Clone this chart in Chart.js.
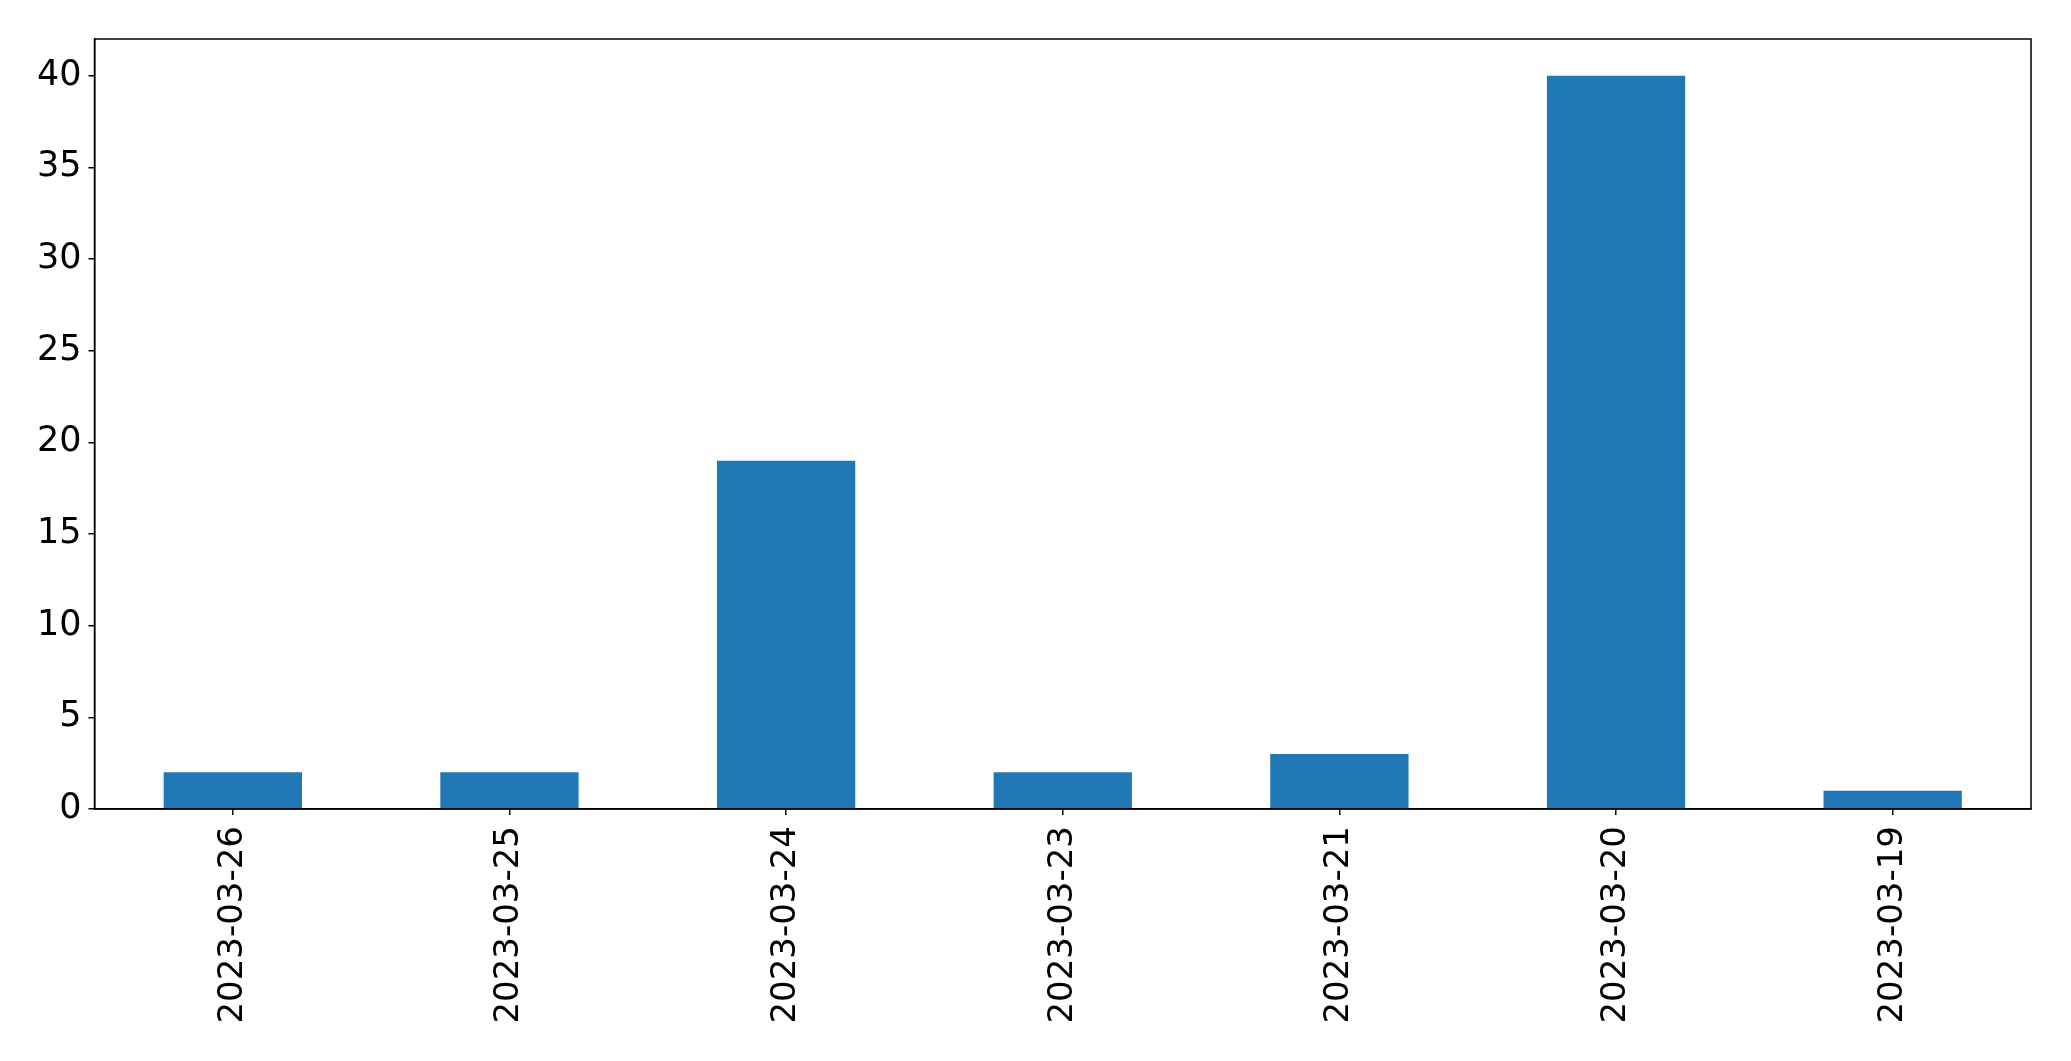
<!DOCTYPE html>
<html>
<head>
<meta charset="utf-8">
<script src="https://cdn.jsdelivr.net/npm/chart.js@4"></script>
<style>
  body { margin: 0; background: #fff; }
  canvas { display: block; }
</style>
</head>
<body>
<canvas id="myChart" width="2071" height="1061"></canvas>
<script>
const dates = ["2023-03-26", "2023-03-25", "2023-03-24", "2023-03-23", "2023-03-21", "2023-03-20", "2023-03-19"];
const counts = [2, 2, 19, 2, 3, 40, 1];
const yTicks = [0, 5, 10, 15, 20, 25, 30, 35, 40];

// matplotlib-style box round the plot
const framePlugin = {
  id: "frame",
  afterDraw(chart) {
    const a = chart.chartArea;
    const c = chart.ctx;
    c.save();
    c.strokeStyle = "#000";
    c.lineWidth = 1.5;
    c.strokeRect(a.left, a.top, a.right - a.left, a.bottom - a.top);
    c.restore();
  }
};

const ctx = document.getElementById("myChart");
new Chart(ctx, {
  type: "bar",
  data: {
    labels: dates,
    datasets: [{
      data: counts,
      backgroundColor: "#1f77b4",
      categoryPercentage: 1.0,
      barPercentage: 0.5
    }]
  },
  options: {
    responsive: false,
    animation: false,
    layout: { padding: { top: 39, right: 40, left: 0, bottom: 0 } },
    plugins: { legend: { display: false }, tooltip: { enabled: false } },
    scales: {
      x: {
        grid: { display: true, offset: false, drawOnChartArea: false, drawTicks: true, tickLength: 6, color: "#000", lineWidth: 1.5 },
        border: { display: true, color: "#000", width: 1.5 },
        ticks: {
          color: "#000",
          font: { family: "DejaVu Sans", size: 34 },
          minRotation: 90,
          maxRotation: 90,
          padding: 11,
          autoSkip: false
        },
        afterFit(scale) { scale.height = 1061 - 809; }
      },
      y: {
        min: 0,
        max: 42,
        grid: { display: true, drawOnChartArea: false, drawTicks: true, tickLength: 6, color: "#000", lineWidth: 1.5 },
        border: { display: true, color: "#000", width: 1.5 },
        ticks: {
          color: "#000",
          font: { family: "DejaVu Sans", size: 35 },
          padding: 7
        },
        afterBuildTicks(scale) { scale.ticks = yTicks.map(v => ({ value: v })); },
        afterFit(scale) { scale.width = 94.5; }
      }
    }
  },
  plugins: [framePlugin]
});
</script>
</body>
</html>
